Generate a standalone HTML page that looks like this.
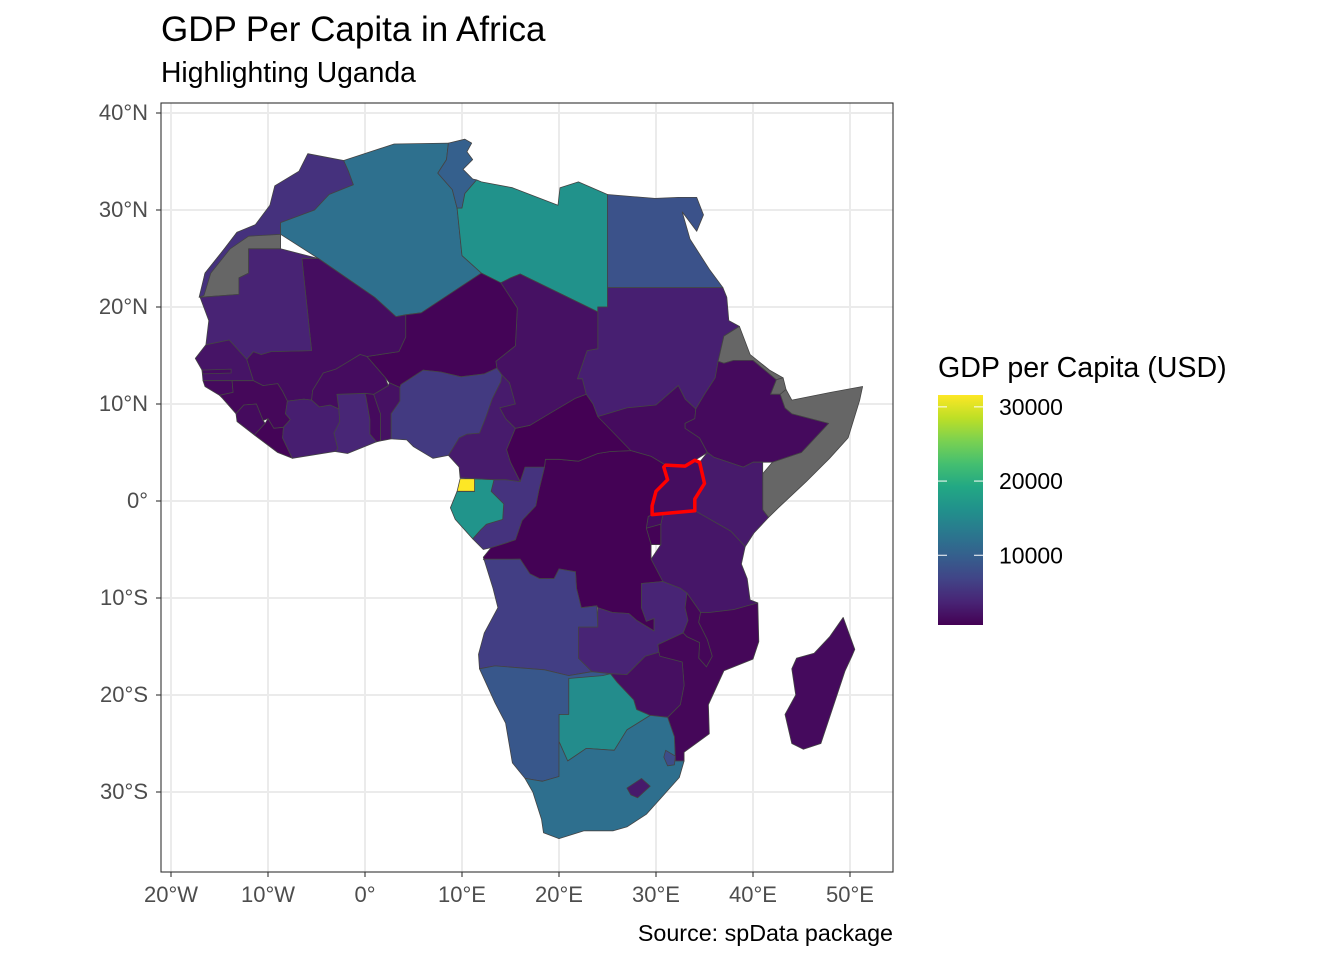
<!DOCTYPE html>
<html><head><meta charset="utf-8"><style>
body{margin:0;background:#fff;font-family:"Liberation Sans",Arial,sans-serif}
svg{display:block}
</style></head><body>
<svg id="chart" width="1344" height="960" xmlns="http://www.w3.org/2000/svg">
<text x="161" y="41" font-size="35" fill="#000">GDP Per Capita in Africa</text>
<text x="161" y="82" font-size="28.3" fill="#000">Highlighting Uganda</text>
<text x="893" y="941" font-size="23.3" fill="#000" text-anchor="end">Source: spData package</text>
<defs><clipPath id="pc"><rect x="161" y="103" width="732" height="769"/></clipPath>
<linearGradient id="lg" x1="0" y1="1" x2="0" y2="0"></linearGradient></defs>
<g id="grid"></g>
<g id="map" clip-path="url(#pc)"></g>
<rect x="161" y="103" width="732" height="769" fill="none" stroke="#333" stroke-width="1.1"/>
<g id="axes"></g>
<g id="legend">
<text x="938" y="377" font-size="28.6" fill="#000">GDP per Capita (USD)</text>
<rect x="938" y="395" width="45" height="230" fill="url(#lg)"/>
</g>
</svg>
<script>
const lonTicks=[-20,-10,0,10,20,30,40,50];
const lonLabels=["20°W","10°W","0°","10°E","20°E","30°E","40°E","50°E"];
const latTicks=[40,30,20,10,0,-10,-20,-30];
const latLabels=["40°N","30°N","20°N","10°N","0°","10°S","20°S","30°S"];
const legendTicks=[10000,20000,30000];
const gdpMin=600, gdpMax=31600;
const countryNames=["Western Sahara","Morocco","Algeria","Tunisia","Libya","Egypt","Sudan","South Sudan","Eritrea","Djibouti","Ethiopia","Somalia","Kenya","Tanzania","Rwanda","Burundi","DR Congo","Congo","Gabon","Equatorial Guinea","Cameroon","Central African Republic","Chad","Niger","Mali","Mauritania","Senegal","Gambia","Guinea-Bissau","Guinea","Sierra Leone","Liberia","Cote d'Ivoire","Ghana","Togo","Benin","Burkina Faso","Nigeria","Angola","Zambia","Malawi","Mozambique","Zimbabwe","Botswana","Namibia","South Africa","Lesotho","Swaziland","Madagascar","Uganda"];
const gdpValues=[null,5000,12000,10000,16300,8400,3300,1500,null,null,1400,null,2800,2500,1600,800,700,5200,16500,31600,2900,600,2000,900,1700,3600,2300,1600,1400,1200,1500,900,3200,3900,1400,2000,1600,5800,6200,3700,1100,1100,1800,15500,9000,11900,2800,7800,1400,1700];
const countryShapes=[
[[-8.7,27.7],[-8.7,26],[-12,26],[-12,23.5],[-13,23],[-13,21.3],[-17,21],[-16.5,23.5],[-14.5,26],[-13.2,27.7]],
[[-5.9,35.8],[-2.2,35.1],[-1.7,34],[-1.2,32.6],[-3.7,31.6],[-5.2,30],[-8.7,28.7],[-8.7,27.5],[-12,27.3],[-13.9,26],[-15.9,23.5],[-16.6,21.2],[-17.1,21],[-16.5,23.5],[-14.5,26],[-13.2,27.7],[-11.3,28.5],[-9.8,30.5],[-9.3,32.5],[-6.8,34]],
[[-2.2,35.1],[3,36.8],[8.6,36.9],[8.4,35.2],[7.5,33.8],[9,32.1],[9.5,30.2],[10,25.3],[12,23.5],[5.8,19.4],[4.2,19.2],[3.2,19],[1,21],[-4.8,25],[-8.7,27.5],[-8.7,28.7],[-5.2,30],[-3.7,31.6],[-1.2,32.6],[-1.7,34]],
[[8.6,36.9],[10.3,37.3],[11,36.9],[10.5,36],[11.1,35.2],[10.1,34.2],[11.1,33.2],[11.5,33.1],[10.3,31.7],[10,30.2],[9.5,30.2],[9,32.1],[7.5,33.8],[8.4,35.2]],
[[11.5,33.1],[12,32.9],[15.2,32.3],[19.9,30.5],[20.1,32.3],[22,32.9],[25,31.6],[25,20],[24,20],[24,19.5],[16,23.4],[15,23],[14,22.5],[12,23.5],[10,25.3],[9.5,30.2],[10,30.2],[10.3,31.7]],
[[25,31.6],[29.9,31.2],[32.3,31.3],[34.2,31.3],[34.9,29.5],[34.2,27.8],[32.7,29.8],[33.5,27],[35.5,23.9],[36.9,22],[25,22]],
[[25,22],[36.9,22],[37.3,21],[37.5,18.6],[38.6,18],[37,17],[36.4,14.4],[36.1,12.7],[35,11],[34.1,9.5],[33,10.5],[32.3,11.9],[30,9.9],[27,9.6],[24,8.7],[23.5,10],[22.8,11],[22.4,12.6],[21.9,12.6],[22.9,15.5],[24,15.7],[24,19.5],[24,20],[25,20]],
[[24,8.7],[27,9.6],[30,9.9],[32.3,11.9],[33,10.5],[34.1,9.5],[34,8.5],[33,8],[33,7.5],[34.5,6.5],[35.3,5],[34,4.2],[33,3.6],[31,3.7],[29.5,4.6],[27.4,5.2],[25.3,5.1]],
[[36.4,14.4],[37,17],[38.6,18],[39.7,15.1],[41.7,13.5],[43.1,12.7],[42.4,12.5],[40,14.5],[38,14.5],[37,14.2]],
[[43.1,12.7],[43.4,11.5],[42.8,11],[41.8,11],[42.4,12.5]],
[[36.4,14.4],[37,14.2],[38,14.5],[40,14.5],[42.4,12.5],[41.8,11],[42.8,11],[43.3,9.6],[44,9],[47.8,8],[45,5],[42,4],[41,4],[40,4],[39,3.5],[36,4.5],[35.3,5],[34.5,6.5],[33,7.5],[33,8],[34,8.5],[34.1,9.5],[35,11],[36.1,12.7]],
[[42.8,11],[43.4,11.5],[44,10.4],[48,11.2],[51.3,11.8],[51,10.4],[49.8,6.5],[47.9,4.4],[45.5,2],[42.5,-0.8],[41.6,-1.7],[41,-0.9],[41,2.8],[42,4],[45,5],[47.8,8],[44,9],[43.3,9.6]],
[[41.6,-1.7],[40.1,-3.3],[39.2,-4.7],[37.7,-3.1],[34,-1],[34,0.2],[35,1.8],[34.5,4],[35.3,5],[36,4.5],[39,3.5],[40,4],[41,4],[41,2.8],[41,-0.9]],
[[39.2,-4.7],[38.8,-6.5],[39.4,-8],[39.7,-10.2],[40.5,-10.5],[38,-11.2],[35.5,-11.5],[34.6,-11.5],[33.2,-9.5],[32.5,-9],[30.7,-8.3],[29.5,-6],[30.5,-4.5],[30.5,-2.4],[30.8,-1],[34,-1],[37.7,-3.1]],
[[29.6,-1.4],[30.8,-1],[30.5,-2.4],[29,-2.8],[29.2,-1.6]],
[[29,-2.8],[30.5,-2.4],[30.5,-4.5],[29.5,-4.5]],
[[12.2,-5.8],[13,-4.8],[14,-4.5],[15.5,-4],[16.2,-2],[17.6,-0.5],[17.9,1],[18.5,3.5],[18.6,4.3],[20,4.3],[22,4.1],[24,4.9],[25.3,5.1],[27.4,5.2],[29.5,4.6],[31,3.7],[30.8,3.5],[31.2,2.2],[30,1],[29.6,-0.5],[29.6,-1.4],[29.2,-1.6],[29,-2.8],[29.5,-4.5],[29.5,-6],[30.7,-8.3],[28.5,-8.5],[28.5,-11],[29,-12.4],[29.8,-12.1],[29.8,-13.4],[28,-12.3],[27.2,-11.6],[25.5,-11.5],[24,-11],[23.9,-10.8],[22.3,-11],[21.8,-9],[21.7,-7.3],[20,-7],[19.5,-8],[18,-8],[17,-7.5],[16,-6],[12.3,-6.1]],
[[11.1,-3.9],[12.2,-5],[13,-4.8],[14,-4.5],[15.5,-4],[16.2,-2],[17.6,-0.5],[17.9,1],[18.5,3.5],[16.5,3.5],[16,2],[14.5,2.2],[13.3,2.2],[13,1],[14.3,-0.3],[14.2,-1.9],[12.5,-2.4],[11.9,-3]],
[[9.3,-1.9],[11.1,-3.9],[11.9,-3],[12.5,-2.4],[14.2,-1.9],[14.3,-0.3],[13,1],[13.3,2.2],[11.3,2.3],[11.3,1],[9.5,1],[8.8,-0.7]],
[[9.5,1],[11.3,1],[11.3,2.3],[9.8,2.3]],
[[9.8,2.4],[11.3,2.3],[13.3,2.2],[14.5,2.2],[16,2],[15,4],[14.6,5.3],[15.5,7.5],[14.5,8.5],[13.9,9.6],[15.5,10],[14.9,12.2],[14.1,13],[14,12.3],[13.1,10.5],[12.4,8.5],[11.8,7],[10.5,6.9],[9.7,6.5],[8.6,4.7],[9.7,3.5]],
[[14.6,5.3],[15,4],[16,2],[16.5,3.5],[18.5,3.5],[18.6,4.3],[20,4.3],[22,4.1],[24,4.9],[25.3,5.1],[27.4,5.2],[24,8.7],[23.5,10],[22.8,11],[21.7,10.6],[19,9],[17,7.8],[15.5,7.5]],
[[14,22.5],[15,23],[16,23.4],[24,19.5],[24,15.7],[22.9,15.5],[21.9,12.6],[22.4,12.6],[22.8,11],[21.7,10.6],[19,9],[17,7.8],[15.5,7.5],[14.5,8.5],[13.9,9.6],[15.5,10],[14.9,12.2],[14.1,13],[13.6,13.7],[13.5,14.4],[15.5,16],[15.7,19.9]],
[[12,23.5],[14,22.5],[15.7,19.9],[15.5,16],[13.5,14.4],[13.6,13.7],[12.3,13.1],[9.9,12.8],[7.8,13.3],[6,13.5],[3.7,12],[3.6,11.7],[2.5,12.2],[2.1,12.7],[0.2,14.9],[3.5,15.4],[4.2,16.9],[4.2,19.2],[5.8,19.4]],
[[4.2,19.2],[4.2,16.9],[3.5,15.4],[0.2,14.9],[-0.5,15.1],[-2,14.2],[-3,13.6],[-4.3,13.2],[-5.4,11.4],[-5.5,10.4],[-6.3,10.5],[-8,10.3],[-8.5,11.3],[-9,12.1],[-10.5,11.9],[-11.5,12.4],[-12.2,14.6],[-11.5,15.4],[-10.7,15.1],[-9.7,15.4],[-5.5,15.5],[-6.5,25],[-4.8,25],[1,21],[3.2,19]],
[[-8.7,26],[-4.8,25],[-6.5,25],[-5.5,15.5],[-9.7,15.4],[-10.7,15.1],[-11.5,15.4],[-12.2,14.6],[-14,16.6],[-16.4,16.1],[-16.1,18.6],[-17,21],[-13,21.3],[-13,23],[-12,23.5],[-12,26]],
[[-16.4,16.1],[-14,16.6],[-12.2,14.6],[-11.5,12.4],[-13.7,12.4],[-16.7,12.4],[-16.8,13.5],[-17.5,14.7]],
[[-16.8,13.5],[-13.8,13.6],[-13.8,13.2],[-16.7,13.1]],
[[-16.7,12.4],[-13.7,12.4],[-13.6,11.2],[-15,10.9],[-16.5,11.8]],
[[-13.7,12.4],[-11.5,12.4],[-10.5,11.9],[-9,12.1],[-8.5,11.3],[-8,10.3],[-8.2,9],[-7.7,8.4],[-8.4,7.6],[-9.4,7.5],[-10,8.5],[-10.5,8.3],[-11.2,10],[-12.5,9.9],[-13.3,9],[-14.7,10.6],[-15,10.9],[-13.6,11.2]],
[[-13.3,9],[-12.5,9.9],[-11.2,10],[-10.5,8.3],[-10.3,8],[-11.4,6.8],[-13.2,8.2]],
[[-11.4,6.8],[-10.3,8],[-10,8.5],[-9.4,7.5],[-8.4,7.6],[-8.5,6.5],[-7.5,4.4],[-9,5]],
[[-7.5,4.4],[-3.1,5.1],[-2.8,5.4],[-3.2,7],[-2.6,8.2],[-2.7,9.5],[-3.6,9.9],[-4.7,9.7],[-5.5,10.4],[-6.3,10.5],[-8,10.3],[-8.2,9],[-7.7,8.4],[-8.4,7.6],[-8.5,6.5]],
[[-3.1,5.1],[-1.8,4.9],[1.2,6.1],[0.5,6.9],[0.5,8.4],[0.1,10.7],[0,11.1],[-2.9,11],[-2.7,9.5],[-2.6,8.2],[-3.2,7],[-2.8,5.4]],
[[1.2,6.1],[1.6,6.2],[1.6,9],[1.4,9.5],[0.9,11],[0,11.1],[0.1,10.7],[0.5,8.4],[0.5,6.9]],
[[1.6,6.2],[2.7,6.4],[2.7,9],[3.6,10.3],[3.6,11.7],[2.5,12.2],[2.4,11.9],[0.9,11],[1.4,9.5],[1.6,9]],
[[-5.5,10.4],[-4.7,9.7],[-3.6,9.9],[-2.7,9.5],[-2.9,11],[0,11.1],[0.9,11],[2.4,11.9],[2.1,12.7],[0.2,14.9],[-0.5,15.1],[-2,14.2],[-3,13.6],[-4.3,13.2],[-5.4,11.4]],
[[2.7,6.4],[4.3,6.3],[5,5.6],[7,4.4],[8.6,4.7],[9.7,6.5],[10.5,6.9],[11.8,7],[12.4,8.5],[13.1,10.5],[14,12.3],[14.1,13],[13.6,13.7],[12.3,13.1],[9.9,12.8],[7.8,13.3],[6,13.5],[3.7,12],[3.6,11.7],[3.6,10.3],[2.7,9]],
[[12.2,-6],[16,-6],[17,-7.5],[18,-8],[19.5,-8],[20,-7],[21.7,-7.3],[21.8,-9],[22.3,-11],[23.9,-10.8],[24,-13],[22,-13],[22,-16.2],[23.4,-17.6],[21,-18],[18.5,-17.4],[13.4,-17],[11.8,-17.3],[11.7,-15.8],[12.3,-13.6],[13.7,-11],[13.2,-9],[12.3,-6.1]],
[[22,-13],[24,-13],[24,-11],[25.5,-11.5],[27.2,-11.6],[28,-12.3],[29.8,-13.4],[29.8,-12.1],[29,-12.4],[28.5,-11],[28.5,-8.5],[30.7,-8.3],[32.5,-9],[33.2,-9.5],[33,-11],[33.3,-12.3],[32.8,-13.6],[30.2,-14.8],[30.3,-15.6],[28.9,-16],[27,-17.9],[25.3,-17.8],[23.4,-17.6],[22,-16.2]],
[[33.2,-9.5],[34.6,-11.5],[34.4,-12.5],[35.3,-14.3],[35.8,-16],[35.2,-17.1],[34.4,-16.2],[34.5,-14.6],[33.2,-14],[32.8,-13.6],[33.3,-12.3],[33,-11]],
[[40.5,-10.5],[40.6,-14.5],[40,-16.3],[37,-17.5],[35.4,-21],[35.5,-24],[32.9,-25.9],[32.9,-26.8],[32,-26.8],[31.9,-24.3],[31.2,-22.3],[32.5,-21],[32.9,-19],[32.7,-16.6],[30.4,-16],[30.3,-15.6],[30.2,-14.8],[32.8,-13.6],[33.2,-14],[34.5,-14.6],[34.4,-16.2],[35.2,-17.1],[35.8,-16],[35.3,-14.3],[34.4,-12.5],[34.6,-11.5],[35.5,-11.5],[38,-11.2]],
[[25.3,-17.8],[27,-17.9],[28.9,-16],[30.3,-15.6],[30.4,-16],[32.7,-16.6],[32.9,-19],[32.5,-21],[31.2,-22.3],[29.4,-22.1],[28,-21.5],[27.7,-20.5],[26,-18.7]],
[[21,-18],[23.4,-17.6],[25.3,-17.8],[26,-18.7],[27.7,-20.5],[28,-21.5],[29.4,-22.1],[27,-23.6],[25.7,-25.7],[22.8,-25.5],[20.9,-26.8],[20,-24.8],[20,-22],[21,-22]],
[[11.8,-17.3],[13.4,-17],[18.5,-17.4],[21,-18],[23.4,-17.6],[25.3,-17.8],[24.5,-18],[21,-18.3],[21,-22],[20,-22],[20,-24.8],[20,-28.4],[18.3,-28.9],[16.5,-28.6],[15.2,-27],[14.5,-22.9],[13.4,-20.8]],
[[16.5,-28.6],[18.3,-28.9],[20,-28.4],[20,-24.8],[20.9,-26.8],[22.8,-25.5],[25.7,-25.7],[27,-23.6],[29.4,-22.1],[31.2,-22.3],[31.9,-24.3],[32,-26.8],[32.9,-26.8],[32.4,-28.5],[30.9,-30.2],[29,-32.3],[27,-33.6],[25.6,-34],[22.6,-34],[20,-34.8],[18.4,-34.2],[18.2,-32.8],[17.3,-30]],
[[27,-29.6],[28.5,-28.6],[29.4,-29.4],[28.1,-30.6],[27.4,-30.3]],
[[31,-25.7],[32,-26.3],[31.9,-27.2],[31.2,-27.3],[30.8,-26.4]],
[[49.3,-12],[50.5,-15.3],[50.2,-16],[49.5,-17.5],[48,-22],[47,-25],[45.2,-25.6],[44,-25],[43.3,-22],[44.4,-20],[44,-17.3],[44.5,-16.2],[46.3,-15.7],[47.9,-14]],
[[34,-1],[29.6,-1.4],[29.6,-0.5],[30,1],[31.2,2.2],[30.8,3.5],[31,3.7],[33,3.6],[34,4.2],[34.5,4],[35,1.8],[34,0.2]]
];
const NS="http://www.w3.org/2000/svg";
const X0=365,Y0=501,K=9.7;
const xs=lon=>X0+K*lon, ys=lat=>Y0-K*lat;
const stops=["#440154","#482475","#414487","#355f8d","#2a788e","#21918c","#22a884","#44bf70","#7ad151","#bddf26","#fde725"];
function hex(h){return [1,3,5].map(i=>parseInt(h.substr(i,2),16));}
function viridis(t){t=Math.max(0,Math.min(1,t));const p=t*10,i=Math.min(9,Math.floor(p)),f=p-i;const a=hex(stops[i]),b=hex(stops[i+1]);return "rgb("+a.map((v,k)=>Math.round(v+(b[k]-v)*f)).join(",")+")";}
const colorOf=v=>v==null?"#666666":viridis((v-gdpMin)/(gdpMax-gdpMin));
const legY=v=>625-(v-gdpMin)/(gdpMax-gdpMin)*230;
function mk(tag,attrs,parent){const e=document.createElementNS(NS,tag);for(const k in attrs)e.setAttribute(k,attrs[k]);parent.appendChild(e);return e;}
const grid=document.getElementById('grid'),axes=document.getElementById('axes'),map=document.getElementById('map');
lonTicks.forEach((t,i)=>{
 const l=mk('line',{x1:xs(t),x2:xs(t),y1:103,y2:872,stroke:'#ebebeb','stroke-width':2},grid);
 
 
 const tk=mk('line',{x1:xs(t),x2:xs(t),y1:872,y2:877,stroke:'#333','stroke-width':1.1},axes);
 
 
 const tx=mk('text',{x:xs(t),y:902,'font-size':22,fill:'#4d4d4d','text-anchor':'middle'},axes);
 tx.textContent=lonLabels[i];
 
 
});
latTicks.forEach((t,i)=>{
 const l=mk('line',{x1:161,x2:893,y1:ys(t),y2:ys(t),stroke:'#ebebeb','stroke-width':2},grid);
 
 
 const tk=mk('line',{x1:156,x2:161,y1:ys(t),y2:ys(t),stroke:'#333','stroke-width':1.1},axes);
 
 
 const tx=mk('text',{x:148,y:ys(t)+7,'font-size':22,fill:'#4d4d4d','text-anchor':'end'},axes);
 tx.textContent=latLabels[i];
 
 
});
countryShapes.forEach((poly,i)=>{
 const ug=countryNames[i]==="Uganda";
 const p=mk('polygon',{points:poly.map(q=>xs(q[0]).toFixed(1)+","+ys(q[1]).toFixed(1)).join(" "),fill:colorOf(gdpValues[i]),stroke:ug?'#ff0000':'#444','stroke-width':ug?3.5:0.8,'stroke-linejoin':'round'},map);
 
 
 const tt=mk('title',{},p);tt.textContent=countryNames[i]+": "+(gdpValues[i]==null?"NA":gdpValues[i]);
});
const lg=document.getElementById('lg');
for(let i=0;i<=10;i++){mk('stop',{offset:(i*10)+'%','stop-color':stops[i]},lg);}
const leg=document.getElementById('legend');
legendTicks.forEach(v=>{
 const a=mk('line',{x1:938,x2:947,y1:legY(v),y2:legY(v),stroke:'#fff','stroke-width':1},leg);
 
 
 const b=mk('line',{x1:974,x2:983,y1:legY(v),y2:legY(v),stroke:'#fff','stroke-width':1},leg);
 
 
 const t=mk('text',{x:999,y:legY(v)+8,'font-size':23,fill:'#000'},leg);
 t.textContent=String(v);
 
 
});
</script>
</body></html>
